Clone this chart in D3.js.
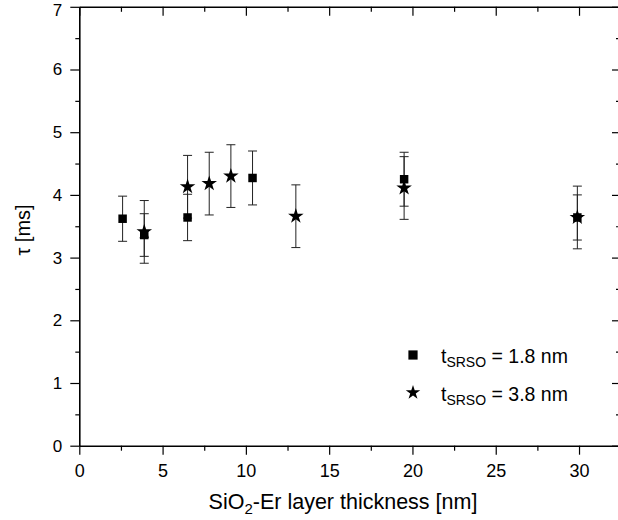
<!DOCTYPE html>
<html>
<head>
<meta charset="utf-8">
<script src="https://cdn.jsdelivr.net/npm/d3@7"></script>
<style>
  body { margin: 0; background: #fff; }
  svg { font-family: "Liberation Sans", Arial, sans-serif; }
</style>
</head>
<body>
<div id="chart"></div>
<script>
// data
const squareX = [2.6, 3.9, 6.5, 10.4, 19.5, 29.9];
const squareY = [3.62, 3.36, 3.64, 4.27, 4.25, 3.64];
const squareErr = [0.36, 0.34, 0.37, 0.43, 0.43, 0.36];

const starX = [3.9, 6.5, 7.8, 9.1, 13.0, 19.5, 29.9];
const starY = [3.41, 4.13, 4.18, 4.30, 3.66, 4.11, 3.64];
const starErr = [0.5, 0.5, 0.5, 0.5, 0.5, 0.5, 0.5];

const xTicks = [0, 5, 10, 15, 20, 25, 30];
const yTicks = [0, 1, 2, 3, 4, 5, 6, 7];
const legendLabels = ["1.8 nm", "3.8 nm"];

const width = 618, height = 520;
const mLeft = 79.3, mRight = 619, mTop = 6.8, mBottom = 445.7;

const svg = d3.select("#chart").append("svg")
  .attr("width", width)
  .attr("height", height);

const x = d3.scaleLinear().domain([0, 32.4]).range([mLeft, mRight]);
const y = d3.scaleLinear().domain([0, 7]).range([mBottom, mTop]);

const xMinor = d3.range(0, 32.5, 2.5).filter(v => v % 5 !== 0);
const yMinor = d3.range(0.5, 7, 1);

// axes
function styleAxis(g) {
  g.select(".domain").attr("stroke", "#000").attr("stroke-width", 1.6);
  g.selectAll(".tick line").attr("stroke", "#000").attr("stroke-width", 1.2);
  g.selectAll(".tick text").attr("font-size", 18).attr("fill", "#000");
}

svg.append("g").attr("transform", `translate(0,${mBottom})`)
  .call(d3.axisBottom(x).tickValues(xTicks).tickSize(9).tickPadding(9.5).tickSizeOuter(0))
  .call(styleAxis);
svg.append("g").attr("transform", `translate(0,${mBottom})`)
  .call(d3.axisBottom(x).tickValues(xMinor).tickSize(5).tickFormat("").tickSizeOuter(0))
  .call(styleAxis).select(".domain").remove();

svg.append("g").attr("transform", `translate(0,${mTop})`)
  .call(d3.axisBottom(x).tickValues(xTicks).tickSize(9).tickFormat("").tickSizeOuter(0))
  .call(styleAxis);
svg.append("g").attr("transform", `translate(0,${mTop})`)
  .call(d3.axisBottom(x).tickValues(xMinor).tickSize(5).tickFormat("").tickSizeOuter(0))
  .call(styleAxis).select(".domain").remove();

const yAxisG = svg.append("g").attr("transform", `translate(${mLeft},0)`)
  .call(d3.axisLeft(y).tickValues(yTicks).tickFormat(d3.format("d")).tickSize(9).tickPadding(8).tickSizeOuter(0))
  .call(styleAxis);
yAxisG.selectAll(".tick text").attr("font-size", 17);
// top label sits a little lower so it is not clipped
yAxisG.selectAll(".tick text").filter(d => d === 7).attr("dy", "0.5em");
svg.append("g").attr("transform", `translate(${mLeft},0)`)
  .call(d3.axisLeft(y).tickValues(yMinor).tickSize(4).tickFormat("").tickSizeOuter(0))
  .call(styleAxis).select(".domain").remove();

svg.append("g").attr("transform", `translate(${mRight},0)`)
  .call(d3.axisLeft(y).tickValues(yTicks).tickSize(7).tickFormat("").tickSizeOuter(0))
  .call(styleAxis);
svg.append("g").attr("transform", `translate(${mRight},0)`)
  .call(d3.axisLeft(y).tickValues(yMinor).tickSize(3).tickFormat("").tickSizeOuter(0))
  .call(styleAxis).select(".domain").remove();

// axis titles
const xt = svg.append("text")
  .attr("x", 343).attr("y", 509)
  .attr("text-anchor", "middle")
  .attr("font-size", 21.5);
xt.append("tspan").text("SiO");
xt.append("tspan").attr("font-size", 15).attr("dy", 5).text("2");
xt.append("tspan").attr("dy", -5).text("-Er layer thickness [nm]");

svg.append("text")
  .attr("transform", `translate(30,230) rotate(-90)`)
  .attr("text-anchor", "middle")
  .attr("font-size", 20)
  .text("τ [ms]");

// error bars
function errorBars(xs, ys, es) {
  const g = svg.append("g").attr("stroke", "#222").attr("stroke-width", 1);
  xs.forEach((xv, i) => {
    const px = x(xv), lo = y(ys[i] - es[i]), hi = y(ys[i] + es[i]);
    g.append("line").attr("x1", px).attr("x2", px).attr("y1", lo).attr("y2", hi);
    g.append("line").attr("x1", px - 4.5).attr("x2", px + 4.5).attr("y1", lo).attr("y2", lo);
    g.append("line").attr("x1", px - 4.5).attr("x2", px + 4.5).attr("y1", hi).attr("y2", hi);
  });
}
errorBars(starX, starY, starErr);
errorBars(squareX, squareY, squareErr);

const starSym = d3.symbol().type(d3.symbolStar).size(75);
const squareSym = d3.symbol().type(d3.symbolSquare).size(72);

svg.append("g").selectAll("path")
  .data(starX.map((v, i) => [v, starY[i]]))
  .join("path")
  .attr("d", starSym)
  .attr("transform", d => `translate(${x(d[0])},${y(d[1])})`)
  .attr("fill", "#000");

svg.append("g").selectAll("path")
  .data(squareX.map((v, i) => [v, squareY[i]]))
  .join("path")
  .attr("d", squareSym)
  .attr("transform", d => `translate(${x(d[0])},${y(d[1])})`)
  .attr("fill", "#000");

// legend
const legend = svg.append("g");
const legendSyms = [d3.symbol().type(d3.symbolSquare).size(85), d3.symbol().type(d3.symbolStar).size(65)];
legendLabels.forEach((lab, i) => {
  const ly = 355 + i * 37.5;
  legend.append("path")
    .attr("d", legendSyms[i])
    .attr("transform", `translate(413,${ly})`)
    .attr("fill", "#000");
  const t = legend.append("text")
    .attr("x", 441).attr("y", ly + 8)
    .attr("font-size", 19.5);
  t.append("tspan").text("t");
  t.append("tspan").attr("font-size", 14).attr("dy", 4).text("SRSO");
  t.append("tspan").attr("dy", -4).text(" = " + lab);
});
</script>
</body>
</html>
